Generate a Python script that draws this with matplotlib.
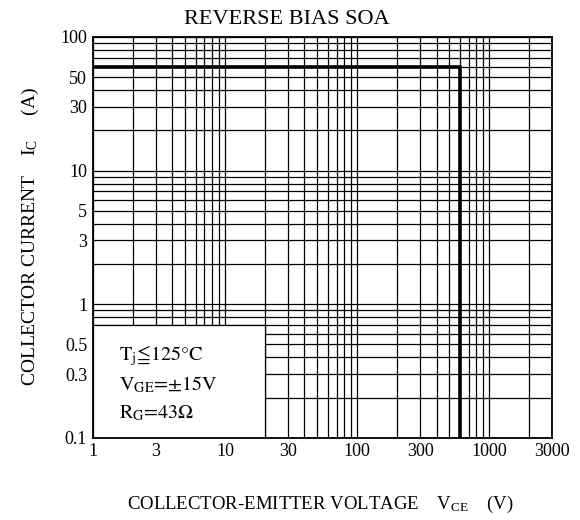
import numpy as np
import matplotlib.pyplot as plt
from matplotlib.patches import Rectangle
from matplotlib.ticker import FixedLocator, NullFormatter

plt.rcParams['font.family'] = ['Liberation Serif', 'DejaVu Serif', 'DejaVu Sans']
plt.rcParams['mathtext.fontset'] = 'stix'

# RBSOA boundary
vce = [1, 600, 600]
ic = [60, 60, 0.1]

xticks = [1, 3, 10, 30, 100, 300, 1000, 3000]
xlabels = ['1', '3', '10', '30', '100', '300', '1000', '3000']
yticks = [0.1, 0.3, 0.5, 1, 3, 5, 10, 30, 50, 100]
ylabels = ['0.1', '0.3', '0.5', '1', '3', '5', '10', '30', '50', '100']

xgrid = [m * 10 ** d for d in range(0, 4) for m in range(1, 10) if m * 10 ** d <= 3000]
ygrid = [m * 10.0 ** d for d in range(-1, 2) for m in range(1, 10)] + [100]

fig = plt.figure(figsize=(5.8, 5.2), dpi=100)
ax = fig.add_axes([0.160, 0.158, 0.792, 0.771])
ax.set_xscale('log')
ax.set_yscale('log')
ax.set_xlim(1, 3000)
ax.set_ylim(0.1, 100)

for x in xgrid:
    ax.axvline(x, color='black', lw=0.9, zorder=1)
for y in ygrid:
    ax.axhline(y, color='black', lw=0.9, zorder=1)

# parameter box covers the grid
ax.add_patch(Rectangle((1, 0.1), 19, 0.6, facecolor='white', edgecolor='black',
                       lw=0.9, zorder=2))

ax.plot(vce, ic, color='black', lw=2.6, zorder=3, solid_joinstyle='miter')

ax.xaxis.set_major_locator(FixedLocator(xticks))
ax.set_xticklabels(xlabels)
ax.yaxis.set_major_locator(FixedLocator(yticks))
ax.set_yticklabels(ylabels)
ax.xaxis.set_minor_formatter(NullFormatter())
ax.yaxis.set_minor_formatter(NullFormatter())
ax.tick_params(which='both', length=0, labelsize=13, pad=4)

for s in ax.spines.values():
    s.set_linewidth(1.3)

box_font = dict(fontsize=14.5, family='STIXGeneral', zorder=4, va='center')
ax.text(1.58, 0.415, r'$\mathregular{T_j}$≦125°C', **box_font)
ax.text(1.58, 0.248, r'$\mathregular{V_{GE}}$=±15V', **box_font)
ax.text(1.58, 0.153, r'$\mathregular{R_G}$=43Ω', **box_font)

fig.text(0.495, 0.963, 'REVERSE BIAS SOA', ha='center', va='center', fontsize=16)
fig.text(0.552, 0.029, r'COLLECTOR-EMITTER VOLTAGE    $\mathregular{V_{CE}}$    (V)',
         ha='center', va='center', fontsize=13.5)
fig.text(0.052, 0.546, r'COLLECTOR CURRENT    $\mathregular{I_C}$     (A)',
         ha='center', va='center', rotation=90, fontsize=14)

fig.savefig('out.png', dpi=100)
